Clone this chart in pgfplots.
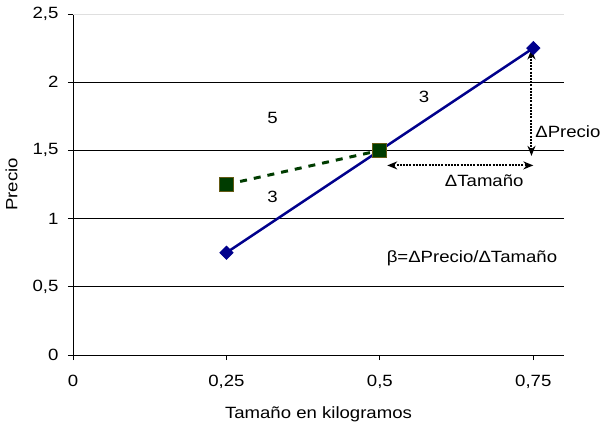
\documentclass[border=0pt]{standalone}
\usepackage{pgfplots}
\pgfplotsset{compat=1.18}
\usepackage{fontspec}
\setmainfont{Liberation Sans}[FakeStretch=1.14]
\usetikzlibrary{arrows.meta}
\definecolor{navy}{RGB}{0,0,140}
\definecolor{dgreen}{RGB}{0,60,0}
\definecolor{olive2}{RGB}{100,90,20}
\begin{document}
\fontsize{16.3}{19}\selectfont
\begin{tikzpicture}[font=\fontsize{16.3}{19}\selectfont]
\begin{axis}[
  scale only axis, width=491pt, height=341pt,
  xmin=0, xmax=0.8, ymin=0, ymax=2.5,
  axis lines=left, axis line style={-, black, line width=0.8pt},
  xtick={0,0.25,0.5,0.75}, ytick={0,0.5,1,1.5,2,2.5},
  tick align=outside, major tick length=5pt,
  tick style={black, line width=0.8pt},
  ymajorgrids, grid style={black, line width=0.7pt},
  /pgf/number format/use comma,
  /pgf/number format/assume math mode=true,
  ticklabel style={font=\fontsize{16.3}{19}\selectfont},
  xticklabel style={yshift=-9pt},
  yticklabel style={xshift=-4pt},
  xlabel={Tamaño en kilogramos}, ylabel={Precio},
  label style={font=\fontsize{16.3}{19}\selectfont},
  xlabel style={yshift=-8pt},
  ylabel style={yshift=4pt},
  clip=false,
]
\addplot[draw=gray!25, line width=0.8pt, forget plot] coordinates {(0,2.5) (0.8,2.5)};
\addplot[navy, line width=2.5pt, mark=square*, mark size=4.8pt, mark options={solid, rotate=45, fill=navy, draw=navy, line width=0.5pt}]
  coordinates {(0.25,0.75) (0.5,1.5) (0.75,2.25)};
\addplot[dgreen, line width=3pt, dash pattern=on 7pt off 7pt, mark=square*, mark size=7pt, mark options={solid, fill=dgreen, draw=olive2, line width=1pt}]
  coordinates {(0.25,1.25) (0.5,1.5)};
\addplot[black, line width=2pt, dash pattern=on 2pt off 1.2pt, {Stealth[length=10pt,width=8pt]}-{Stealth[length=10pt,width=8pt]}]
  coordinates {(0.512,1.39) (0.75,1.39)};
\addplot[black, line width=2pt, dash pattern=on 2pt off 1.2pt, {Stealth[length=10pt,width=8pt]}-{Stealth[length=10pt,width=8pt]}]
  coordinates {(0.747,2.24) (0.747,1.46)};
\node at (axis cs:0.325,1.74) {5};
\node at (axis cs:0.325,1.16) {3};
\node at (axis cs:0.572,1.89) {3};
\node[anchor=west, inner sep=0pt] at (axis cs:0.753,1.64) {ΔPrecio};
\node at (axis cs:0.67,1.28) {ΔTamaño};
\node at (axis cs:0.65,0.71) {β=ΔPrecio/ΔTamaño};
\end{axis}
\pgfresetboundingbox
\path (-73pt,-66pt) rectangle (536pt,355pt);
\end{tikzpicture}
\end{document}
